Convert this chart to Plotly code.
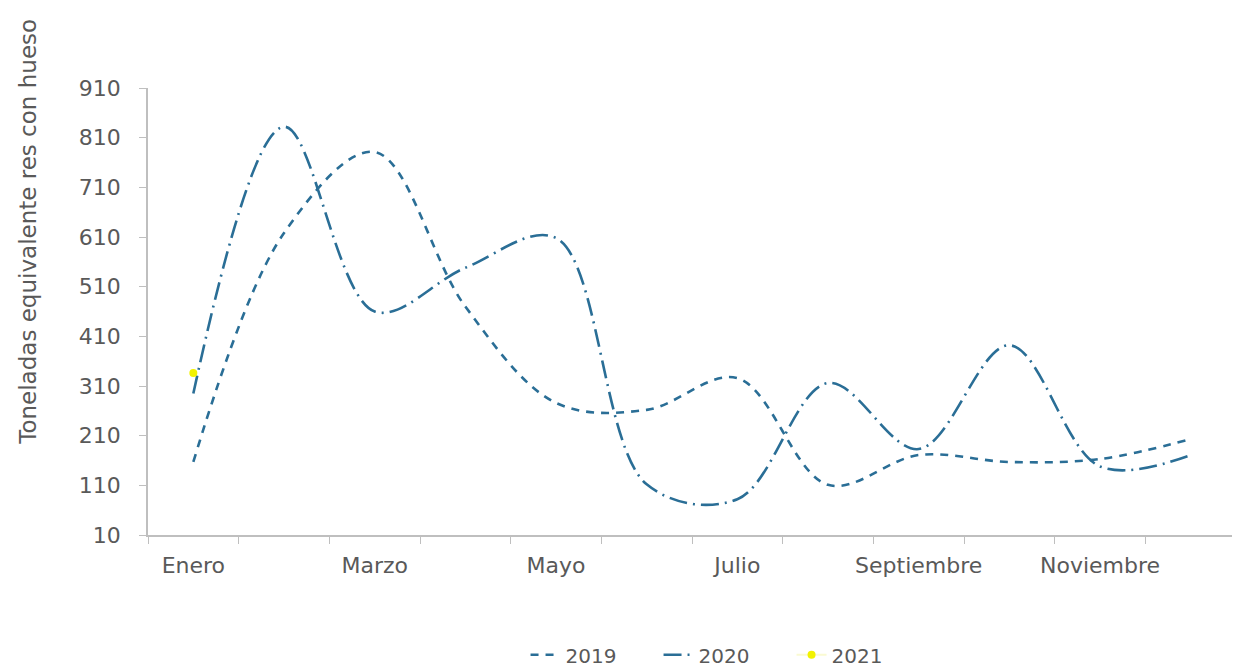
import plotly.graph_objects as go

months = ["Enero", "Febrero", "Marzo", "Abril", "Mayo", "Junio",
          "Julio", "Agosto", "Septiembre", "Octubre", "Noviembre", "Diciembre"]
values_2019 = [157, 618, 781, 470, 276, 262, 326, 111, 171, 157, 163, 203]
values_2020 = [295, 832, 460, 548, 608, 112, 82, 316, 183, 392, 148, 171]
values_2021 = [336]
y_ticks = [10, 110, 210, 310, 410, 510, 610, 710, 810, 910]

idx = list(range(len(months)))
label_idx = idx[::2]
label_text = months[::2]

line_color = "#2A6E96"
text_color = "#595959"
axis_color = "#BFBFBF"
font_family = "DejaVu Sans"
fs = 22

fig = go.Figure()
fig.add_trace(go.Scatter(
    x=idx, y=values_2019, name="2019", mode="lines",
    line=dict(color=line_color, width=2.6, dash="8px,7px", shape="spline", smoothing=1.0),
))
fig.add_trace(go.Scatter(
    x=idx, y=values_2020, name="2020", mode="lines",
    line=dict(color=line_color, width=2.6, dash="18px,6px,2px,6px", shape="spline", smoothing=1.0),
))
fig.add_trace(go.Scatter(
    x=idx[:len(values_2021)], y=values_2021, name="2021", mode="lines+markers",
    line=dict(color="#FAFAD2", width=2),
    marker=dict(color="#F2F200", size=8),
))

# page body has an 8px margin, so the figure is made 8px smaller and shifted
fig.update_layout(
    width=1232, height=660,
    paper_bgcolor="white", plot_bgcolor="white",
    margin=dict(l=140, r=4, t=80, b=133, autoexpand=False),
    font=dict(family=font_family, size=fs, color=text_color),
    showlegend=True,
    legend=dict(orientation="h", x=0.347, xanchor="left", y=-0.268, yanchor="middle",
                entrywidth=88, entrywidthmode="pixels",
                font=dict(size=20, color=text_color), traceorder="normal"),
    xaxis=dict(
        range=[-0.5, 11.5], tickmode="array", tickvals=label_idx, ticktext=label_text,
        ticks="", showgrid=False, zeroline=False, automargin=False,
        ticklabelstandoff=10,
        showline=True, linecolor=axis_color, linewidth=1.5,
        minor=dict(tickmode="linear", tick0=-0.5, dtick=1, ticks="outside",
                   ticklen=7, tickcolor=axis_color, tickwidth=1.2, showgrid=False),
        tickfont=dict(size=fs, color=text_color),
    ),
    yaxis=dict(
        range=[10, 910], tickmode="array", tickvals=y_ticks,
        ticks="outside", ticklen=7, tickcolor=axis_color, tickwidth=1.2,
        showgrid=False, zeroline=False, automargin=False,
        ticklabelstandoff=14,
        showline=True, linecolor=axis_color, linewidth=1.5,
        tickfont=dict(size=fs, color=text_color),
    ),
    annotations=[dict(
        text="Toneladas equivalente res con hueso", textangle=-90,
        xref="paper", yref="paper", x=-0.1105, y=0.678, xanchor="center", yanchor="middle",
        showarrow=False, font=dict(size=23, color=text_color, family=font_family),
    )],
)

fig.write_html("out.html")
